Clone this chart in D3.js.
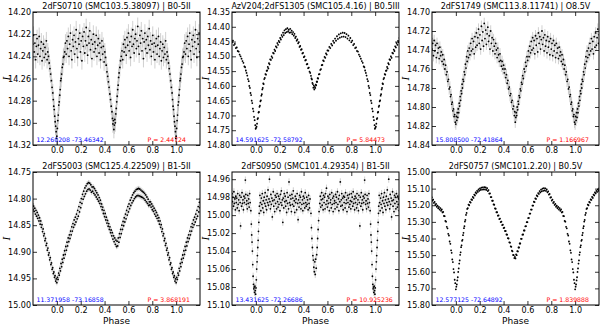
<!DOCTYPE html>
<html><head><meta charset="utf-8">
<script src="https://cdn.jsdelivr.net/npm/d3@7"></script>
<style>body{margin:0;background:#fff}svg{display:block}</style>
</head><body><svg id="c" width="600" height="325"></svg>
<script>
const titles = ["2dFS0710 (SMC103.5.38097) | B0-5II","AzV204;2dFS1305 (SMC105.4.16) | B0.5III","2dFS1749 (SMC113.8.11741) | O8.5V",
  "2dFS5003 (SMC125.4.22509) | B1-5II","2dFS0950 (SMC101.4.29354) | B1-5II","2dFS0757 (SMC101.2.20) | B0.5V"];
const coords = ["12.260208 -73.46342","14.591625 -72.58792","15.808500 -72.41864","11.371958 -73.16858","13.431625 -72.26686","12.577125 -72.64892"];
const periods = ["P = 2.44724","P = 5.84473","P = 1.166967","P = 3.868191","P = 10.925236","P = 1.839888"];
const yDomains = [[14.20,14.32],[14.35,14.80],[14.70,14.84],[14.75,15.00],[14.952,15.10],[15.00,15.80]];
const yTicks = [
  [14.20,14.22,14.24,14.26,14.28,14.30,14.32],
  [14.35,14.40,14.45,14.50,14.55,14.60,14.65,14.70,14.75,14.80],
  [14.70,14.72,14.74,14.76,14.78,14.80,14.82,14.84],
  [14.75,14.80,14.85,14.90,14.95,15.00],
  [14.96,14.98,15.00,15.02,15.04,15.06,15.08,15.10],
  [15.00,15.10,15.20,15.30,15.40,15.50,15.60,15.70,15.80]];
const xDomain = [-0.2, 1.2];
const xTicks = [0.0,0.2,0.4,0.6,0.8,1.0];
const errs = [0.008,0.004,0.006,0.005,0.004,0.006];

const lc1 = [[0.000,14.312],[0.004,14.305],[0.008,14.298],[0.012,14.293],[0.016,14.284],[0.020,14.281],[0.024,14.275],[0.028,14.270],[0.032,14.262],[0.036,14.260],[0.040,14.256],[0.045,14.250],[0.050,14.247],[0.055,14.241],[0.060,14.240],[0.066,14.236],[0.072,14.228],[0.078,14.238],[0.084,14.226],[0.090,14.233],[0.096,14.222],[0.102,14.240],[0.108,14.229],[0.114,14.219],[0.120,14.235],[0.126,14.243],[0.132,14.225],[0.138,14.231],[0.144,14.221],[0.150,14.238],[0.156,14.227],[0.162,14.216],[0.168,14.233],[0.174,14.241],[0.180,14.224],[0.186,14.229],[0.192,14.219],[0.198,14.236],[0.204,14.226],[0.210,14.244],[0.216,14.222],[0.222,14.231],[0.228,14.218],[0.234,14.237],[0.240,14.226],[0.246,14.214],[0.252,14.230],[0.258,14.239],[0.264,14.222],[0.270,14.228],[0.276,14.217],[0.282,14.234],[0.288,14.225],[0.294,14.242],[0.300,14.229],[0.306,14.220],[0.312,14.236],[0.318,14.227],[0.324,14.233],[0.330,14.221],[0.336,14.240],[0.342,14.230],[0.348,14.224],[0.354,14.237],[0.360,14.228],[0.366,14.243],[0.372,14.232],[0.378,14.226],[0.384,14.238],[0.390,14.231],[0.396,14.245],[0.402,14.236],[0.408,14.241],[0.414,14.248],[0.420,14.254],[0.426,14.258],[0.432,14.263],[0.438,14.268],[0.444,14.274],[0.450,14.279],[0.456,14.285],[0.462,14.290],[0.466,14.296],[0.470,14.301],[0.474,14.298],[0.478,14.306],[0.482,14.302],[0.486,14.297],[0.490,14.300],[0.494,14.292],[0.498,14.287],[0.502,14.281],[0.506,14.276],[0.510,14.270],[0.514,14.266],[0.518,14.259],[0.522,14.255],[0.528,14.250],[0.534,14.244],[0.540,14.240],[0.546,14.235],[0.552,14.243],[0.558,14.229],[0.564,14.236],[0.570,14.225],[0.576,14.232],[0.582,14.239],[0.588,14.223],[0.594,14.230],[0.600,14.219],[0.606,14.235],[0.612,14.227],[0.618,14.241],[0.624,14.222],[0.630,14.231],[0.636,14.216],[0.642,14.229],[0.648,14.237],[0.654,14.224],[0.660,14.220],[0.666,14.233],[0.672,14.226],[0.678,14.213],[0.684,14.231],[0.690,14.238],[0.696,14.221],[0.702,14.228],[0.708,14.217],[0.714,14.235],[0.720,14.224],[0.726,14.242],[0.732,14.227],[0.738,14.219],[0.744,14.233],[0.750,14.225],[0.756,14.237],[0.762,14.222],[0.768,14.230],[0.774,14.215],[0.780,14.234],[0.786,14.226],[0.792,14.240],[0.798,14.229],[0.804,14.221],[0.810,14.236],[0.816,14.228],[0.822,14.243],[0.828,14.231],[0.834,14.224],[0.840,14.238],[0.846,14.230],[0.852,14.222],[0.858,14.240],[0.864,14.233],[0.870,14.227],[0.876,14.244],[0.882,14.235],[0.888,14.229],[0.894,14.241],[0.900,14.232],[0.906,14.238],[0.912,14.226],[0.918,14.243],[0.924,14.236],[0.930,14.240],[0.936,14.246],[0.942,14.251],[0.948,14.256],[0.954,14.262],[0.960,14.268],[0.966,14.273],[0.970,14.279],[0.974,14.285],[0.978,14.288],[0.982,14.294],[0.986,14.299],[0.990,14.303],[0.994,14.308],[0.997,14.314]];

const lc2 = [[0.002,14.742],[0.006,14.738],[0.010,14.728],[0.014,14.712],[0.018,14.709],[0.022,14.690],[0.026,14.688],[0.030,14.671],[0.034,14.667],[0.038,14.652],[0.042,14.649],[0.046,14.633],[0.050,14.628],[0.054,14.612],[0.058,14.607],[0.062,14.592],[0.066,14.594],[0.070,14.577],[0.075,14.573],[0.080,14.560],[0.085,14.562],[0.090,14.549],[0.095,14.548],[0.100,14.536],[0.105,14.541],[0.110,14.523],[0.115,14.527],[0.120,14.510],[0.126,14.512],[0.132,14.500],[0.138,14.505],[0.144,14.488],[0.150,14.490],[0.156,14.477],[0.162,14.482],[0.168,14.466],[0.174,14.470],[0.180,14.455],[0.186,14.461],[0.192,14.448],[0.198,14.452],[0.204,14.438],[0.210,14.443],[0.216,14.428],[0.222,14.434],[0.228,14.420],[0.234,14.428],[0.240,14.412],[0.246,14.421],[0.252,14.408],[0.258,14.418],[0.264,14.405],[0.270,14.416],[0.276,14.410],[0.282,14.420],[0.288,14.407],[0.294,14.419],[0.300,14.413],[0.306,14.425],[0.312,14.418],[0.318,14.430],[0.324,14.424],[0.330,14.438],[0.336,14.433],[0.342,14.447],[0.348,14.443],[0.354,14.456],[0.360,14.452],[0.366,14.468],[0.372,14.465],[0.378,14.478],[0.384,14.476],[0.390,14.490],[0.396,14.488],[0.402,14.503],[0.408,14.500],[0.414,14.514],[0.420,14.512],[0.426,14.527],[0.432,14.526],[0.438,14.540],[0.444,14.538],[0.450,14.552],[0.456,14.556],[0.462,14.566],[0.466,14.575],[0.470,14.578],[0.474,14.590],[0.478,14.594],[0.482,14.606],[0.486,14.599],[0.490,14.612],[0.494,14.603],[0.498,14.607],[0.502,14.596],[0.506,14.598],[0.510,14.586],[0.514,14.586],[0.518,14.574],[0.522,14.575],[0.528,14.561],[0.534,14.560],[0.540,14.546],[0.546,14.543],[0.552,14.530],[0.558,14.529],[0.564,14.514],[0.570,14.516],[0.576,14.502],[0.582,14.505],[0.588,14.490],[0.594,14.494],[0.600,14.480],[0.608,14.481],[0.616,14.468],[0.624,14.472],[0.632,14.458],[0.640,14.463],[0.648,14.448],[0.656,14.454],[0.664,14.440],[0.672,14.447],[0.680,14.432],[0.688,14.441],[0.696,14.426],[0.704,14.437],[0.712,14.422],[0.720,14.434],[0.728,14.420],[0.736,14.433],[0.744,14.421],[0.752,14.435],[0.760,14.425],[0.768,14.440],[0.776,14.430],[0.784,14.446],[0.792,14.438],[0.800,14.452],[0.808,14.447],[0.816,14.462],[0.824,14.458],[0.832,14.472],[0.840,14.470],[0.848,14.482],[0.856,14.484],[0.864,14.494],[0.872,14.500],[0.880,14.508],[0.888,14.516],[0.896,14.522],[0.904,14.534],[0.910,14.537],[0.916,14.548],[0.922,14.556],[0.928,14.565],[0.934,14.577],[0.940,14.584],[0.945,14.600],[0.950,14.607],[0.955,14.624],[0.960,14.631],[0.965,14.650],[0.970,14.658],[0.975,14.677],[0.980,14.686],[0.985,14.705],[0.990,14.716],[0.995,14.733],[0.998,14.745]];

const lc3 = [[0.000,14.818],[0.004,14.810],[0.008,14.814],[0.012,14.806],[0.016,14.811],[0.020,14.802],[0.024,14.806],[0.028,14.796],[0.032,14.799],[0.036,14.789],[0.040,14.793],[0.044,14.783],[0.048,14.786],[0.052,14.776],[0.056,14.780],[0.060,14.771],[0.065,14.773],[0.070,14.763],[0.075,14.766],[0.080,14.755],[0.085,14.759],[0.090,14.747],[0.095,14.752],[0.100,14.741],[0.106,14.748],[0.112,14.738],[0.118,14.745],[0.124,14.733],[0.130,14.741],[0.136,14.728],[0.142,14.739],[0.148,14.731],[0.154,14.744],[0.160,14.726],[0.166,14.737],[0.172,14.722],[0.178,14.735],[0.184,14.727],[0.190,14.718],[0.196,14.733],[0.202,14.724],[0.208,14.739],[0.214,14.715],[0.220,14.730],[0.226,14.721],[0.232,14.736],[0.238,14.712],[0.244,14.728],[0.250,14.719],[0.256,14.734],[0.262,14.723],[0.268,14.716],[0.274,14.731],[0.280,14.725],[0.286,14.739],[0.292,14.720],[0.298,14.733],[0.304,14.727],[0.310,14.741],[0.316,14.729],[0.322,14.736],[0.328,14.744],[0.334,14.733],[0.340,14.740],[0.346,14.748],[0.352,14.738],[0.358,14.745],[0.364,14.752],[0.370,14.744],[0.376,14.751],[0.382,14.757],[0.388,14.752],[0.394,14.760],[0.400,14.756],[0.406,14.764],[0.412,14.760],[0.418,14.769],[0.424,14.766],[0.430,14.775],[0.436,14.772],[0.442,14.781],[0.448,14.779],[0.454,14.788],[0.460,14.786],[0.466,14.795],[0.472,14.793],[0.478,14.802],[0.484,14.799],[0.490,14.809],[0.494,14.805],[0.498,14.816],[0.502,14.811],[0.506,14.806],[0.510,14.809],[0.514,14.800],[0.518,14.803],[0.522,14.794],[0.526,14.797],[0.530,14.788],[0.535,14.790],[0.540,14.781],[0.545,14.783],[0.550,14.774],[0.555,14.776],[0.560,14.767],[0.566,14.770],[0.572,14.760],[0.578,14.763],[0.584,14.753],[0.590,14.757],[0.596,14.747],[0.602,14.751],[0.608,14.741],[0.614,14.747],[0.620,14.736],[0.626,14.743],[0.632,14.731],[0.638,14.740],[0.644,14.727],[0.650,14.738],[0.656,14.730],[0.662,14.744],[0.668,14.725],[0.674,14.735],[0.680,14.728],[0.686,14.742],[0.692,14.722],[0.698,14.733],[0.704,14.726],[0.710,14.739],[0.716,14.729],[0.722,14.720],[0.728,14.734],[0.734,14.727],[0.740,14.741],[0.746,14.724],[0.752,14.736],[0.758,14.730],[0.764,14.743],[0.770,14.726],[0.776,14.737],[0.782,14.731],[0.788,14.745],[0.794,14.728],[0.800,14.739],[0.806,14.733],[0.812,14.746],[0.818,14.730],[0.824,14.741],[0.830,14.735],[0.836,14.748],[0.842,14.733],[0.848,14.743],[0.854,14.738],[0.860,14.749],[0.866,14.737],[0.872,14.746],[0.878,14.742],[0.884,14.752],[0.890,14.745],[0.896,14.755],[0.902,14.750],[0.908,14.760],[0.914,14.756],[0.920,14.766],[0.926,14.763],[0.932,14.773],[0.938,14.771],[0.944,14.781],[0.950,14.779],[0.955,14.789],[0.960,14.787],[0.965,14.797],[0.970,14.795],[0.975,14.804],[0.980,14.802],[0.985,14.810],[0.990,14.808],[0.995,14.816]];

const lc4 = [[0.000,14.958],[0.005,14.948],[0.010,14.952],[0.015,14.940],[0.020,14.944],[0.025,14.931],[0.030,14.936],[0.035,14.922],[0.040,14.928],[0.045,14.914],[0.050,14.920],[0.055,14.906],[0.060,14.912],[0.065,14.898],[0.070,14.905],[0.075,14.890],[0.080,14.897],[0.085,14.882],[0.090,14.889],[0.095,14.874],[0.100,14.881],[0.105,14.868],[0.110,14.875],[0.115,14.861],[0.120,14.868],[0.125,14.853],[0.130,14.861],[0.135,14.847],[0.140,14.854],[0.145,14.840],[0.150,14.849],[0.155,14.835],[0.160,14.844],[0.165,14.829],[0.170,14.838],[0.175,14.822],[0.180,14.833],[0.185,14.815],[0.190,14.825],[0.195,14.807],[0.200,14.817],[0.205,14.800],[0.210,14.809],[0.215,14.792],[0.220,14.801],[0.225,14.786],[0.230,14.796],[0.235,14.780],[0.240,14.791],[0.245,14.776],[0.250,14.786],[0.255,14.772],[0.260,14.783],[0.265,14.770],[0.270,14.782],[0.275,14.771],[0.280,14.784],[0.285,14.774],[0.290,14.788],[0.295,14.778],[0.300,14.786],[0.305,14.778],[0.310,14.790],[0.315,14.781],[0.320,14.793],[0.325,14.785],[0.330,14.797],[0.335,14.789],[0.340,14.801],[0.345,14.793],[0.350,14.805],[0.355,14.798],[0.360,14.809],[0.365,14.803],[0.370,14.815],[0.375,14.810],[0.380,14.821],[0.385,14.816],[0.390,14.828],[0.395,14.822],[0.400,14.834],[0.405,14.828],[0.410,14.840],[0.415,14.835],[0.420,14.846],[0.425,14.841],[0.430,14.852],[0.435,14.847],[0.440,14.858],[0.445,14.853],[0.450,14.864],[0.455,14.859],[0.460,14.870],[0.465,14.864],[0.470,14.876],[0.475,14.870],[0.480,14.881],[0.485,14.874],[0.490,14.886],[0.495,14.878],[0.500,14.890],[0.505,14.880],[0.510,14.889],[0.515,14.874],[0.520,14.882],[0.525,14.866],[0.530,14.873],[0.535,14.858],[0.540,14.866],[0.545,14.850],[0.550,14.858],[0.555,14.843],[0.560,14.851],[0.565,14.836],[0.570,14.844],[0.575,14.829],[0.580,14.838],[0.585,14.822],[0.590,14.831],[0.595,14.815],[0.600,14.825],[0.605,14.810],[0.610,14.819],[0.615,14.803],[0.620,14.813],[0.625,14.798],[0.630,14.808],[0.635,14.793],[0.640,14.804],[0.645,14.789],[0.650,14.800],[0.655,14.786],[0.660,14.797],[0.665,14.783],[0.670,14.795],[0.675,14.782],[0.680,14.794],[0.685,14.781],[0.690,14.795],[0.695,14.782],[0.700,14.796],[0.705,14.784],[0.710,14.797],[0.715,14.786],[0.720,14.798],[0.725,14.788],[0.730,14.800],[0.735,14.790],[0.740,14.803],[0.745,14.793],[0.750,14.806],[0.755,14.797],[0.760,14.809],[0.765,14.801],[0.770,14.813],[0.775,14.806],[0.780,14.812],[0.785,14.806],[0.790,14.816],[0.795,14.810],[0.800,14.821],[0.805,14.814],[0.810,14.824],[0.815,14.818],[0.820,14.829],[0.825,14.822],[0.830,14.833],[0.835,14.826],[0.840,14.837],[0.845,14.831],[0.850,14.842],[0.855,14.836],[0.860,14.848],[0.865,14.842],[0.870,14.854],[0.875,14.849],[0.880,14.862],[0.885,14.857],[0.890,14.870],[0.895,14.866],[0.900,14.879],[0.905,14.875],[0.910,14.888],[0.915,14.884],[0.920,14.897],[0.925,14.893],[0.930,14.906],[0.935,14.902],[0.940,14.915],[0.945,14.911],[0.950,14.924],[0.955,14.921],[0.960,14.933],[0.965,14.930],[0.970,14.941],[0.975,14.938],[0.980,14.948],[0.985,14.945],[0.990,14.955],[0.995,14.951]];

const lc5 = [[0.030,14.990],[0.034,14.978],[0.038,14.986],[0.042,14.995],[0.046,14.981],[0.050,14.988],[0.054,14.976],[0.058,14.992],[0.062,14.984],[0.066,14.997],[0.070,14.980],[0.074,14.987],[0.078,14.975],[0.082,14.990],[0.086,14.983],[0.090,14.994],[0.094,14.979],[0.098,14.986],[0.102,14.972],[0.106,14.989],[0.110,14.982],[0.114,14.960],[0.118,14.985],[0.122,14.993],[0.126,14.977],[0.130,14.988],[0.134,14.981],[0.138,15.002],[0.142,14.984],[0.146,14.974],[0.150,14.990],[0.154,14.983],[0.158,14.996],[0.162,14.978],[0.166,14.987],[0.170,14.980],[0.174,14.993],[0.178,14.976],[0.182,14.985],[0.186,14.991],[0.190,14.979],[0.194,14.988],[0.198,14.982],[0.202,14.995],[0.206,14.977],[0.210,14.986],[0.214,14.973],[0.218,14.989],[0.222,14.983],[0.226,15.008],[0.230,14.981],[0.234,14.992],[0.238,14.976],[0.242,14.985],[0.246,14.979],[0.250,14.990],[0.254,14.984],[0.258,14.997],[0.262,14.975],[0.266,14.987],[0.270,14.980],[0.274,14.993],[0.278,14.963],[0.282,14.986],[0.286,14.978],[0.290,14.989],[0.294,14.982],[0.298,14.996],[0.302,14.977],[0.306,14.988],[0.310,14.981],[0.314,14.973],[0.318,14.990],[0.322,14.984],[0.326,14.997],[0.330,14.979],[0.334,14.986],[0.338,14.982],[0.342,14.994],[0.346,14.976],[0.350,14.987],[0.354,15.005],[0.358,14.983],[0.362,14.991],[0.366,14.978],[0.370,14.986],[0.374,14.980],[0.378,14.993],[0.382,14.974],[0.386,14.988],[0.390,14.983],[0.394,14.995],[0.398,14.979],[0.402,14.987],[0.406,14.981],[0.410,14.992],[0.414,14.975],[0.418,14.986],[0.422,14.990],[0.426,14.980],[0.430,14.988],[0.434,14.983],[0.438,14.994],[0.442,14.978],[0.446,14.987],[0.450,14.992],[0.454,14.982],
[0.462,14.998],[0.466,15.014],[0.470,15.026],[0.474,15.036],[0.478,15.045],[0.482,15.050],[0.486,15.058],[0.490,15.063],[0.494,15.052],[0.498,15.066],[0.502,15.049],[0.506,15.059],[0.510,15.044],[0.514,15.036],[0.518,15.026],[0.522,15.016],[0.526,15.006],[0.530,14.996],
[0.536,14.987],[0.540,14.979],[0.544,14.991],[0.548,14.983],[0.552,14.975],[0.556,14.989],[0.560,14.982],[0.564,14.994],[0.568,14.978],[0.572,14.986],[0.576,14.980],[0.580,14.993],[0.584,14.976],[0.588,14.988],[0.592,14.970],[0.596,14.984],[0.600,14.991],[0.604,14.979],[0.608,14.987],[0.612,14.981],[0.616,14.995],[0.620,14.977],[0.624,14.986],[0.628,14.983],[0.632,14.992],[0.636,14.975],[0.640,14.988],[0.644,14.981],[0.648,14.996],[0.652,14.979],[0.656,14.987],[0.660,14.984],[0.664,14.993],[0.668,14.977],[0.672,14.986],[0.676,14.980],[0.680,14.991],[0.684,14.974],[0.688,14.988],[0.692,14.982],[0.696,14.995],[0.700,14.978],[0.704,14.985],[0.708,14.963],[0.712,14.990],[0.716,14.983],[0.720,14.976],[0.724,14.989],[0.728,14.981],[0.732,14.994],[0.736,14.979],[0.740,14.986],[0.744,14.980],[0.748,14.992],[0.752,14.975],[0.756,14.987],[0.760,14.983],[0.764,14.996],[0.768,14.978],[0.772,14.986],[0.776,14.981],[0.780,14.991],[0.784,14.977],[0.788,14.988],[0.792,14.984],[0.796,14.993],[0.800,14.976],[0.804,14.985],[0.808,14.980],[0.812,14.990],[0.816,14.974],[0.820,14.987],[0.824,14.982],[0.828,14.994],[0.832,14.979],[0.836,14.986],[0.840,14.981],[0.844,14.992],[0.848,14.976],[0.852,14.988],[0.856,14.983],[0.860,14.995],[0.864,14.978],[0.868,14.986],[0.872,15.012],[0.876,14.980],[0.880,14.990],[0.884,14.975],[0.888,14.987],[0.892,14.983],[0.896,14.994],[0.900,14.979],[0.904,14.986],[0.908,14.981],[0.912,14.961],[0.916,14.977],[0.920,14.988],[0.924,14.984],[0.928,14.993],[0.932,14.978],[0.936,14.987],[0.940,14.982],[0.944,14.991],[0.948,14.976],[0.952,14.986],
[0.958,14.995],[0.962,15.010],[0.965,15.022],[0.968,15.030],[0.971,15.040],[0.974,15.055],[0.977,15.068],[0.980,15.077],[0.983,15.082],[0.986,15.080],[0.989,15.086],[0.992,15.079],[0.995,15.084],[0.998,15.088],[0.001,15.081],[0.004,15.072],[0.007,15.060],[0.010,15.052],[0.013,15.045],[0.016,15.036],[0.019,15.028],[0.022,15.018],[0.025,15.008],[0.028,14.998]];

const lc6 = [[0.000,15.706],[0.004,15.690],[0.008,15.676],[0.012,15.652],[0.016,15.633],[0.020,15.601],[0.024,15.580],[0.028,15.551],[0.032,15.532],[0.036,15.498],[0.040,15.483],[0.044,15.452],[0.048,15.441],[0.052,15.414],[0.056,15.408],[0.060,15.380],[0.064,15.366],[0.068,15.338],[0.072,15.326],[0.076,15.298],[0.080,15.288],[0.085,15.258],[0.090,15.246],[0.095,15.222],[0.100,15.218],[0.106,15.196],[0.112,15.200],[0.118,15.180],[0.124,15.184],[0.130,15.165],[0.136,15.168],[0.142,15.150],[0.148,15.156],[0.154,15.136],[0.160,15.141],[0.166,15.123],[0.172,15.129],[0.178,15.113],[0.184,15.120],[0.190,15.105],[0.196,15.113],[0.202,15.099],[0.208,15.108],[0.214,15.094],[0.220,15.106],[0.226,15.092],[0.232,15.105],[0.238,15.091],[0.244,15.105],[0.250,15.093],[0.256,15.108],[0.262,15.097],[0.268,15.115],[0.274,15.109],[0.280,15.130],[0.286,15.129],[0.292,15.151],[0.298,15.151],[0.304,15.173],[0.310,15.173],[0.316,15.195],[0.322,15.197],[0.328,15.219],[0.334,15.221],[0.340,15.242],[0.346,15.242],[0.352,15.263],[0.358,15.261],[0.364,15.283],[0.370,15.280],[0.376,15.301],[0.382,15.298],[0.388,15.319],[0.394,15.317],[0.400,15.337],[0.406,15.335],[0.412,15.355],[0.418,15.355],[0.424,15.376],[0.430,15.377],[0.436,15.398],[0.442,15.400],[0.448,15.423],[0.454,15.425],[0.460,15.447],[0.465,15.450],[0.470,15.473],[0.475,15.477],[0.480,15.499],[0.485,15.500],[0.490,15.518],[0.495,15.511],[0.500,15.520],[0.505,15.496],[0.510,15.500],[0.515,15.476],[0.520,15.478],[0.525,15.454],[0.530,15.454],[0.535,15.430],[0.540,15.430],[0.546,15.402],[0.552,15.402],[0.558,15.377],[0.564,15.376],[0.570,15.352],[0.576,15.352],[0.582,15.327],[0.588,15.326],[0.594,15.302],[0.600,15.302],[0.606,15.277],[0.612,15.276],[0.618,15.250],[0.624,15.250],[0.630,15.226],[0.636,15.226],[0.642,15.202],[0.648,15.202],[0.654,15.179],[0.660,15.181],[0.666,15.159],[0.672,15.162],[0.678,15.141],[0.684,15.146],[0.690,15.127],[0.696,15.132],[0.702,15.115],[0.708,15.123],[0.714,15.106],[0.720,15.116],[0.726,15.100],[0.732,15.113],[0.738,15.097],[0.744,15.111],[0.750,15.098],[0.756,15.114],[0.762,15.104],[0.768,15.122],[0.774,15.116],[0.780,15.136],[0.786,15.132],[0.792,15.154],[0.798,15.152],[0.804,15.172],[0.810,15.166],[0.816,15.186],[0.822,15.180],[0.828,15.198],[0.834,15.192],[0.840,15.209],[0.846,15.202],[0.852,15.218],[0.858,15.210],[0.864,15.226],[0.870,15.217],[0.876,15.233],[0.882,15.225],[0.888,15.243],[0.894,15.240],[0.900,15.264],[0.906,15.266],[0.912,15.294],[0.918,15.299],[0.924,15.330],[0.930,15.339],[0.936,15.372],[0.942,15.382],[0.948,15.418],[0.954,15.432],[0.960,15.471],[0.965,15.486],[0.970,15.526],[0.975,15.542],[0.980,15.584],[0.985,15.604],[0.990,15.648],[0.995,15.669]];

const curves = [lc1, lc2, lc3, lc4, lc5, lc6];

const svg = d3.select("#c");
const FONT = "DejaVu Sans, sans-serif";
const lefts = [33, 232, 432], tops = [12, 172], W = 167, H = 133;

curves.forEach((data, i) => {
  const col = i % 3, row = Math.floor(i / 3);
  const g = svg.append("g").attr("transform", `translate(${lefts[col]},${tops[row]})`);
  const x = d3.scaleLinear().domain(xDomain).range([0, W]);
  const y = d3.scaleLinear().domain(yDomains[i]).range([0, H]);
  const cid = "clip" + i;
  g.append("clipPath").attr("id", cid).append("rect").attr("width", W).attr("height", H);

  const pts = [];
  data.forEach(d => [-1, 0, 1].forEach(s => {
    const p = d[0] + s;
    if (p >= xDomain[0] - 0.01 && p <= xDomain[1] + 0.01) pts.push([p, d[1]]);
  }));
  const pg = g.append("g").attr("clip-path", `url(#${cid})`);
  const e = errs[i];
  pg.selectAll("line.err").data(pts).join("line").attr("class", "err")
    .attr("x1", d => x(d[0])).attr("x2", d => x(d[0]))
    .attr("y1", d => y(d[1] - e)).attr("y2", d => y(d[1] + e))
    .attr("stroke", "#b0b0b0").attr("stroke-width", 0.6);
  pg.selectAll("circle").data(pts).join("circle")
    .attr("cx", d => x(d[0])).attr("cy", d => y(d[1])).attr("r", 0.9).attr("fill", "#000");

  const styleAxis = (a) => {
    a.select(".domain").remove();
    a.selectAll(".tick line").attr("stroke", "#000").attr("stroke-width", 0.8);
    a.selectAll("text").attr("font-family", FONT).attr("font-size", 8).attr("fill", "#000");
  };
  g.append("g").call(d3.axisLeft(y).tickValues(yTicks[i]).tickSizeInner(-4).tickSizeOuter(0).tickPadding(2).tickFormat(d3.format(".2f"))).call(styleAxis);
  g.append("g").attr("transform", `translate(${W},0)`).call(d3.axisRight(y).tickValues(yTicks[i]).tickSizeInner(-4).tickSizeOuter(0).tickFormat("")).call(styleAxis);
  g.append("g").attr("transform", `translate(0,${H})`).call(d3.axisBottom(x).tickValues(xTicks).tickSizeInner(-4).tickSizeOuter(0).tickPadding(2.5).tickFormat(d3.format(".1f"))).call(styleAxis);
  g.append("g").call(d3.axisTop(x).tickValues(xTicks).tickSizeInner(-4).tickSizeOuter(0).tickFormat("")).call(styleAxis);

  g.append("rect").attr("width", W).attr("height", H).attr("fill", "none").attr("stroke", "#000").attr("stroke-width", 1);

  g.append("text").attr("x", W / 2).attr("y", -3.5).attr("text-anchor", "middle")
    .attr("font-family", FONT).attr("font-size", 8).text(titles[i]);
  g.append("text").attr("x", 3.5).attr("y", H - 3.4).attr("font-family", FONT).attr("font-size", 6.2)
    .attr("fill", "#0000ff").text(coords[i]);
  g.append("text").attr("x", 114.5).attr("y", H - 3.4).attr("font-family", FONT).attr("font-size", 6.2)
    .attr("fill", "#ff0000").text(periods[i]);
  g.append("text").attr("transform", `translate(${-26},${H / 2}) rotate(-90)`).attr("text-anchor", "middle")
    .attr("dy", "0.35em")
    .attr("font-family", "DejaVu Serif, serif").attr("font-style", "italic").attr("font-size", 9).text("I");
  if (row === 1) {
    g.append("text").attr("x", W / 2).attr("y", H + 19).attr("text-anchor", "middle")
      .attr("font-family", FONT).attr("font-size", 9).text("Phase");
  }
});
</script></body></html>
